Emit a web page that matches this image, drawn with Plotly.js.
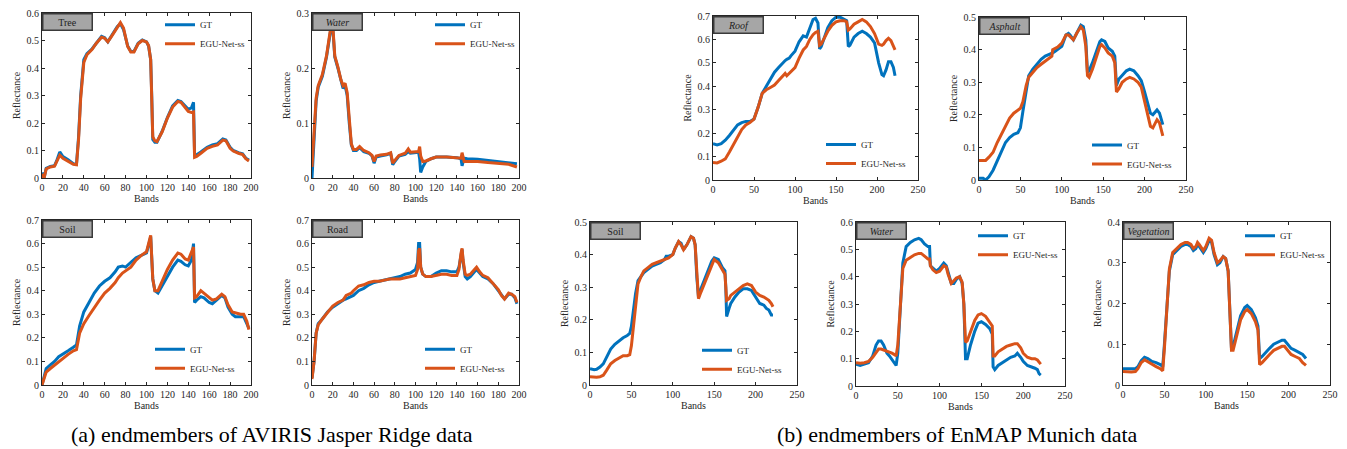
<!DOCTYPE html>
<html>
<head>
<meta charset="utf-8">
<script src="https://cdn.plot.ly/plotly-3.0.1.min.js"></script>
<style>html,body{margin:0;padding:0;background:#fff;}#chart{width:1347px;height:449px;}</style>
</head>
<body>
<div id="chart"></div>
<script>
// ---------------- DATA ----------------
const treeBands = [0,2,4,8,12,14,17,20,25,30,33,35,37,40,43,48,52,57,60,63,67,72,75,78,82,85,88,92,96,100,102,104,105,106,108,110,115,120,125,130,133,137,140,143,145,146,148,152,158,163,168,173,176,180,183,188,192,195,198];
const treeGT  = [0.02,0.0,0.035,0.042,0.045,0.062,0.095,0.078,0.066,0.052,0.05,0.15,0.3,0.43,0.452,0.47,0.49,0.515,0.51,0.495,0.52,0.55,0.562,0.54,0.48,0.46,0.46,0.49,0.502,0.495,0.48,0.43,0.3,0.14,0.13,0.13,0.17,0.22,0.262,0.282,0.278,0.262,0.25,0.255,0.275,0.085,0.085,0.095,0.112,0.12,0.125,0.142,0.138,0.112,0.1,0.092,0.088,0.072,0.065];
const treeEGU = [0.015,0.0,0.033,0.04,0.043,0.058,0.083,0.072,0.062,0.05,0.048,0.14,0.29,0.42,0.448,0.468,0.49,0.512,0.508,0.495,0.518,0.548,0.565,0.545,0.478,0.458,0.458,0.488,0.5,0.495,0.482,0.43,0.32,0.15,0.135,0.132,0.168,0.218,0.258,0.278,0.275,0.258,0.242,0.238,0.24,0.075,0.078,0.09,0.108,0.115,0.12,0.138,0.135,0.108,0.098,0.09,0.085,0.07,0.062];

const waterJBands = [0,2,4,6,10,14,17,19,20,21,22,25,28,30,32,34,36,38,40,43,46,50,55,58,60,62,66,72,76,78,80,84,90,93,95,100,103,104,105,107,110,115,120,130,140,144,145,147,150,160,170,180,190,198];
const waterJGT  = [0.0,0.08,0.14,0.165,0.185,0.22,0.26,0.28,0.275,0.25,0.22,0.2,0.175,0.163,0.168,0.15,0.1,0.06,0.05,0.05,0.055,0.048,0.045,0.04,0.027,0.038,0.04,0.042,0.045,0.024,0.03,0.04,0.043,0.048,0.045,0.046,0.047,0.035,0.01,0.02,0.03,0.035,0.038,0.038,0.037,0.035,0.022,0.036,0.035,0.034,0.032,0.03,0.028,0.026];
const waterJEGU = [0.02,0.085,0.145,0.168,0.188,0.222,0.262,0.285,0.28,0.255,0.222,0.202,0.178,0.168,0.172,0.155,0.105,0.062,0.052,0.052,0.057,0.05,0.046,0.041,0.03,0.04,0.042,0.043,0.046,0.027,0.032,0.041,0.045,0.053,0.047,0.047,0.048,0.057,0.04,0.03,0.031,0.035,0.038,0.038,0.037,0.036,0.046,0.03,0.03,0.03,0.028,0.027,0.025,0.02];

const soilJBands = [0,2,4,8,12,16,20,25,30,33,36,40,45,50,55,60,65,70,73,77,80,85,90,95,100,103,104,106,108,111,115,120,125,130,133,137,140,143,145,146,148,152,155,160,163,167,172,175,178,182,185,190,193,196,198];
const soilJGT  = [0.0,0.04,0.07,0.085,0.1,0.12,0.13,0.145,0.16,0.17,0.25,0.31,0.35,0.39,0.42,0.44,0.455,0.48,0.5,0.505,0.5,0.52,0.54,0.55,0.56,0.61,0.63,0.45,0.4,0.39,0.42,0.46,0.5,0.53,0.525,0.51,0.505,0.53,0.6,0.35,0.36,0.375,0.37,0.35,0.345,0.36,0.38,0.37,0.33,0.3,0.29,0.29,0.29,0.26,0.24];
const soilJEGU = [0.0,0.03,0.055,0.07,0.085,0.1,0.115,0.13,0.145,0.15,0.22,0.26,0.295,0.33,0.36,0.39,0.41,0.435,0.455,0.475,0.485,0.5,0.53,0.55,0.565,0.62,0.635,0.45,0.4,0.4,0.44,0.49,0.53,0.56,0.555,0.535,0.53,0.56,0.585,0.37,0.375,0.4,0.39,0.37,0.36,0.365,0.385,0.375,0.34,0.31,0.305,0.3,0.3,0.27,0.235];

const roadBands = [0,2,4,6,10,15,20,25,30,33,38,40,45,50,55,60,65,70,75,80,85,90,95,100,102,103,104,105,107,110,115,120,125,130,135,140,142,144,145,146,148,150,153,157,159,162,165,170,175,180,183,186,190,193,196,198];
const roadGT  = [0.03,0.1,0.22,0.26,0.28,0.31,0.33,0.345,0.36,0.365,0.375,0.38,0.4,0.41,0.425,0.435,0.44,0.445,0.45,0.455,0.46,0.47,0.475,0.49,0.52,0.6,0.6,0.5,0.47,0.46,0.46,0.475,0.485,0.485,0.48,0.48,0.5,0.55,0.575,0.52,0.46,0.45,0.46,0.48,0.49,0.475,0.46,0.45,0.43,0.4,0.38,0.365,0.385,0.385,0.37,0.345];
const roadEGU = [0.025,0.1,0.22,0.255,0.28,0.31,0.335,0.35,0.36,0.38,0.39,0.4,0.42,0.425,0.435,0.44,0.44,0.445,0.45,0.45,0.45,0.455,0.46,0.465,0.49,0.57,0.58,0.5,0.47,0.46,0.46,0.465,0.47,0.47,0.465,0.465,0.49,0.56,0.58,0.53,0.47,0.465,0.47,0.49,0.5,0.48,0.465,0.455,0.43,0.405,0.38,0.365,0.39,0.385,0.375,0.35];

const roofBands = [0,5,10,15,20,25,30,35,40,45,50,55,60,65,70,75,80,85,88,90,93,95,100,105,110,114,118,122,125,128,130,132,135,140,145,150,155,160,163,165,167,172,177,182,187,192,197,202,206,208,211,214,217,220,222];
const roofGT  = [0.155,0.15,0.155,0.17,0.19,0.215,0.235,0.245,0.25,0.25,0.26,0.31,0.37,0.4,0.43,0.46,0.48,0.5,0.51,0.515,0.52,0.53,0.55,0.59,0.615,0.61,0.65,0.685,0.69,0.67,0.56,0.57,0.6,0.65,0.68,0.695,0.695,0.685,0.68,0.57,0.575,0.61,0.625,0.635,0.625,0.61,0.585,0.5,0.45,0.445,0.47,0.505,0.505,0.48,0.445];
const roofEGU = [0.075,0.073,0.08,0.09,0.12,0.15,0.18,0.215,0.235,0.245,0.26,0.31,0.37,0.385,0.395,0.405,0.425,0.445,0.455,0.445,0.455,0.465,0.48,0.52,0.555,0.57,0.6,0.62,0.63,0.635,0.575,0.58,0.6,0.635,0.66,0.675,0.68,0.68,0.675,0.64,0.645,0.665,0.675,0.685,0.675,0.655,0.625,0.58,0.575,0.58,0.595,0.605,0.595,0.57,0.555];

const asphaltBands = [0,5,8,12,17,22,27,32,37,42,47,50,53,57,60,65,70,75,80,85,88,89,92,95,100,105,108,110,114,118,123,126,129,131,133,137,142,146,148,152,156,161,164,166,169,173,178,182,187,192,196,200,204,207,210,213,215,218,222];
const asphaltGT  = [0.005,0.005,0.0,0.01,0.03,0.06,0.09,0.115,0.13,0.14,0.145,0.16,0.21,0.28,0.32,0.34,0.355,0.37,0.38,0.385,0.388,0.39,0.395,0.4,0.41,0.445,0.45,0.445,0.43,0.45,0.475,0.47,0.43,0.33,0.335,0.36,0.395,0.425,0.43,0.425,0.405,0.395,0.38,0.29,0.31,0.32,0.335,0.34,0.335,0.32,0.305,0.27,0.23,0.205,0.2,0.21,0.215,0.205,0.17];
const asphaltEGU = [0.06,0.06,0.06,0.07,0.085,0.115,0.14,0.165,0.19,0.205,0.215,0.22,0.24,0.29,0.315,0.33,0.345,0.355,0.365,0.375,0.38,0.4,0.405,0.408,0.42,0.445,0.445,0.44,0.43,0.45,0.47,0.46,0.41,0.32,0.315,0.34,0.38,0.41,0.415,0.405,0.39,0.38,0.36,0.27,0.28,0.3,0.31,0.315,0.31,0.3,0.285,0.24,0.19,0.165,0.16,0.175,0.185,0.175,0.135];

const soilMBands = [0,5,8,12,16,20,25,30,35,40,45,48,50,52,55,58,62,65,70,75,80,85,90,92,95,100,103,107,110,113,117,122,125,127,129,131,134,138,142,147,150,155,160,163,164,165,168,170,175,180,185,190,195,200,205,210,213,216,219,221];
const soilMGT  = [0.05,0.047,0.048,0.055,0.065,0.085,0.11,0.125,0.135,0.145,0.152,0.158,0.18,0.22,0.28,0.32,0.335,0.345,0.355,0.365,0.37,0.375,0.385,0.395,0.395,0.4,0.42,0.44,0.435,0.415,0.43,0.455,0.45,0.43,0.33,0.27,0.295,0.32,0.35,0.38,0.39,0.385,0.36,0.35,0.3,0.21,0.235,0.25,0.27,0.285,0.295,0.295,0.29,0.27,0.25,0.245,0.235,0.23,0.215,0.215];
const soilMEGU = [0.025,0.024,0.024,0.025,0.03,0.045,0.065,0.075,0.083,0.09,0.09,0.093,0.12,0.17,0.25,0.31,0.335,0.35,0.36,0.37,0.375,0.38,0.385,0.388,0.39,0.4,0.42,0.44,0.43,0.415,0.43,0.455,0.45,0.43,0.33,0.265,0.285,0.31,0.34,0.37,0.385,0.375,0.355,0.34,0.3,0.26,0.265,0.275,0.285,0.295,0.305,0.31,0.305,0.285,0.275,0.27,0.265,0.26,0.25,0.24];

const waterMBands = [0,5,10,15,20,24,27,30,33,37,40,43,46,48,50,53,56,60,65,70,75,78,82,86,88,89,92,96,100,105,108,110,114,117,120,124,127,129,131,133,137,142,146,150,155,160,163,164,166,170,175,180,185,190,193,197,200,205,210,214,217,219,221];
const waterMGT  = [0.08,0.075,0.08,0.085,0.11,0.15,0.165,0.165,0.15,0.12,0.11,0.095,0.08,0.075,0.12,0.3,0.45,0.51,0.525,0.535,0.54,0.535,0.52,0.51,0.51,0.44,0.43,0.42,0.43,0.45,0.44,0.42,0.375,0.375,0.39,0.4,0.375,0.3,0.1,0.1,0.15,0.2,0.23,0.235,0.225,0.21,0.19,0.07,0.06,0.075,0.085,0.095,0.105,0.11,0.12,0.105,0.09,0.075,0.07,0.065,0.06,0.045,0.04];
const waterMEGU = [0.085,0.083,0.085,0.09,0.105,0.125,0.135,0.135,0.132,0.128,0.125,0.12,0.115,0.11,0.15,0.3,0.43,0.46,0.47,0.48,0.485,0.485,0.475,0.465,0.465,0.44,0.425,0.415,0.42,0.44,0.435,0.41,0.375,0.385,0.395,0.4,0.38,0.3,0.16,0.165,0.2,0.24,0.26,0.265,0.255,0.235,0.22,0.11,0.11,0.125,0.135,0.145,0.15,0.155,0.155,0.14,0.12,0.105,0.1,0.1,0.095,0.085,0.08];

const vegBands = [0,5,10,15,18,22,26,30,35,40,45,48,50,53,56,60,65,70,75,78,82,85,88,90,92,95,97,100,104,107,110,114,117,121,124,127,129,131,133,137,142,147,150,155,160,163,165,168,172,177,182,187,192,195,199,203,208,213,217,221];
const vegGT  = [0.04,0.04,0.04,0.04,0.045,0.06,0.068,0.065,0.058,0.055,0.05,0.045,0.1,0.2,0.28,0.32,0.33,0.34,0.345,0.345,0.34,0.33,0.335,0.345,0.34,0.33,0.325,0.335,0.355,0.35,0.32,0.295,0.3,0.315,0.31,0.28,0.2,0.09,0.095,0.13,0.17,0.19,0.195,0.185,0.165,0.145,0.065,0.07,0.08,0.09,0.1,0.105,0.11,0.11,0.1,0.09,0.085,0.08,0.075,0.065];
const vegEGU = [0.033,0.032,0.032,0.033,0.04,0.055,0.062,0.057,0.05,0.045,0.04,0.035,0.09,0.2,0.285,0.325,0.335,0.345,0.35,0.35,0.345,0.335,0.34,0.35,0.345,0.335,0.33,0.34,0.36,0.355,0.325,0.3,0.305,0.315,0.31,0.28,0.19,0.085,0.085,0.12,0.16,0.18,0.185,0.175,0.155,0.135,0.05,0.055,0.065,0.075,0.085,0.09,0.095,0.095,0.085,0.075,0.07,0.065,0.055,0.048];

const panelNames = ['Tree','Water','Soil','Road','Roof','Asphalt','Soil','Water','Vegetation'];
const seriesNames = ['GT','EGU-Net-ss'];
const captions = ['(a) endmembers of AVIRIS Jasper Ridge data','(b) endmembers of EnMAP Munich data'];

// ---------------- LAYOUT (pixels) ----------------
const W = 1347, H = 449;
const FONT = '"Liberation Serif", serif';
const INK = '#262626';
const BLUE = '#0072BD', ORANGE = '#D95319';

const panels = [
  {b:treeBands,  g:treeGT,  e:treeEGU,  box:[42,251,13,178],  xr:200, dx:20, yr:0.6, leg:[200,34.3], it:false},
  {b:waterJBands,g:waterJGT,e:waterJEGU,box:[312,519,13,178], xr:200, dx:20, yr:0.3, leg:[470,34.3], it:true},
  {b:soilJBands, g:soilJGT, e:soilJEGU, box:[42,251,220,385], xr:200, dx:20, yr:0.7, leg:[190,358.8], it:false},
  {b:roadBands,  g:roadGT,  e:roadEGU,  box:[312,519,220,385],xr:200, dx:20, yr:0.7, leg:[460,358.8], it:false},
  {b:roofBands,  g:roofGT,  e:roofEGU,  box:[713,918,16,180], xr:250, dx:50, yr:0.7, leg:[861,154], it:true},
  {b:asphaltBands,g:asphaltGT,e:asphaltEGU,box:[979,1186,17,180],xr:250,dx:50,yr:0.5, leg:[1127,154.5], it:true},
  {b:soilMBands, g:soilMGT, e:soilMEGU, box:[590,797,222,385],xr:250, dx:50, yr:0.5, leg:[737,359.8], it:false},
  {b:waterMBands,g:waterMGT,e:waterMEGU,box:[856,1065,222,386],xr:250,dx:50, yr:0.6, leg:[1013,245.3], it:true},
  {b:vegBands,   g:vegGT,   e:vegEGU,   box:[1123,1330,222,385],xr:250,dx:50, yr:0.4, leg:[1280,245.3], it:true}
];

const data = [];
const layout = {
  width: W, height: H,
  margin: {l:0, r:0, t:0, b:0},
  paper_bgcolor: '#fff', plot_bgcolor: '#fff',
  font: {family: FONT, color: INK, size: 10},
  showlegend: true,
  annotations: []
};

panels.forEach((p, i) => {
  const n = i === 0 ? '' : String(i + 1);
  const xa = 'x' + n, ya = 'y' + n;
  const lg = 'legend' + n;
  data.push({x: p.b, y: p.g, type: 'scatter', mode: 'lines', name: seriesNames[0],
             xaxis: xa, yaxis: ya, legend: lg, line: {color: BLUE, width: 3}});
  data.push({x: p.b, y: p.e, type: 'scatter', mode: 'lines', name: seriesNames[1],
             xaxis: xa, yaxis: ya, legend: lg, line: {color: ORANGE, width: 3}});
  const [l, r, t, b] = p.box;
  const axCommon = {
    showline: true, linecolor: INK, linewidth: 1, mirror: 'ticks',
    ticks: 'inside', ticklen: 3, tickwidth: 1, tickcolor: INK,
    showgrid: false, zeroline: false, automargin: false,
    tickfont: {family: FONT, size: 10, color: INK}
  };
  layout['xaxis' + n] = Object.assign({}, axCommon, {
    domain: [l / W, r / W], anchor: ya, range: [0, p.xr], dtick: p.dx, tick0: 0,
    title: {text: 'Bands', font: {family: FONT, size: 10, color: INK}, standoff: 2}
  });
  layout['yaxis' + n] = Object.assign({}, axCommon, {
    domain: [1 - b / H, 1 - t / H], anchor: xa, range: [0, p.yr], dtick: 0.1, tick0: 0,
    title: {text: 'Reflectance', font: {family: FONT, size: 10, color: INK}, standoff: 4}
  });
  layout[lg] = {
    x: (p.leg[0] - 40) / W, y: 1 - p.leg[1] / H, xanchor: 'left', yanchor: 'middle',
    bgcolor: 'rgba(0,0,0,0)', borderwidth: 0,
    font: {family: FONT, size: 9, color: INK}
  };
  layout.annotations.push({
    xref: xa + ' domain', yref: ya + ' domain', x: 0, y: 1,
    xanchor: 'left', yanchor: 'top', showarrow: false,
    text: p.it ? '<i>' + panelNames[i] + '</i>' : panelNames[i],
    font: {family: FONT, size: 10, color: '#222'},
    bgcolor: '#a6a6a6', bordercolor: '#3a3a3a', borderwidth: 1.5, borderpad: 1,
    width: 46, height: 13, align: 'center'
  });
});

layout.annotations.push({xref:'paper', yref:'paper', x: 271.5 / W, y: 1 - 434 / H,
  xanchor:'center', yanchor:'middle', showarrow:false, text: captions[0],
  font:{family: FONT, size: 22, color:'#000'}});
layout.annotations.push({xref:'paper', yref:'paper', x: 957 / W, y: 1 - 434 / H,
  xanchor:'center', yanchor:'middle', showarrow:false, text: captions[1],
  font:{family: FONT, size: 22, color:'#000'}});

Plotly.newPlot('chart', data, layout, {displayModeBar: false, staticPlot: true});
</script>
</body>
</html>
